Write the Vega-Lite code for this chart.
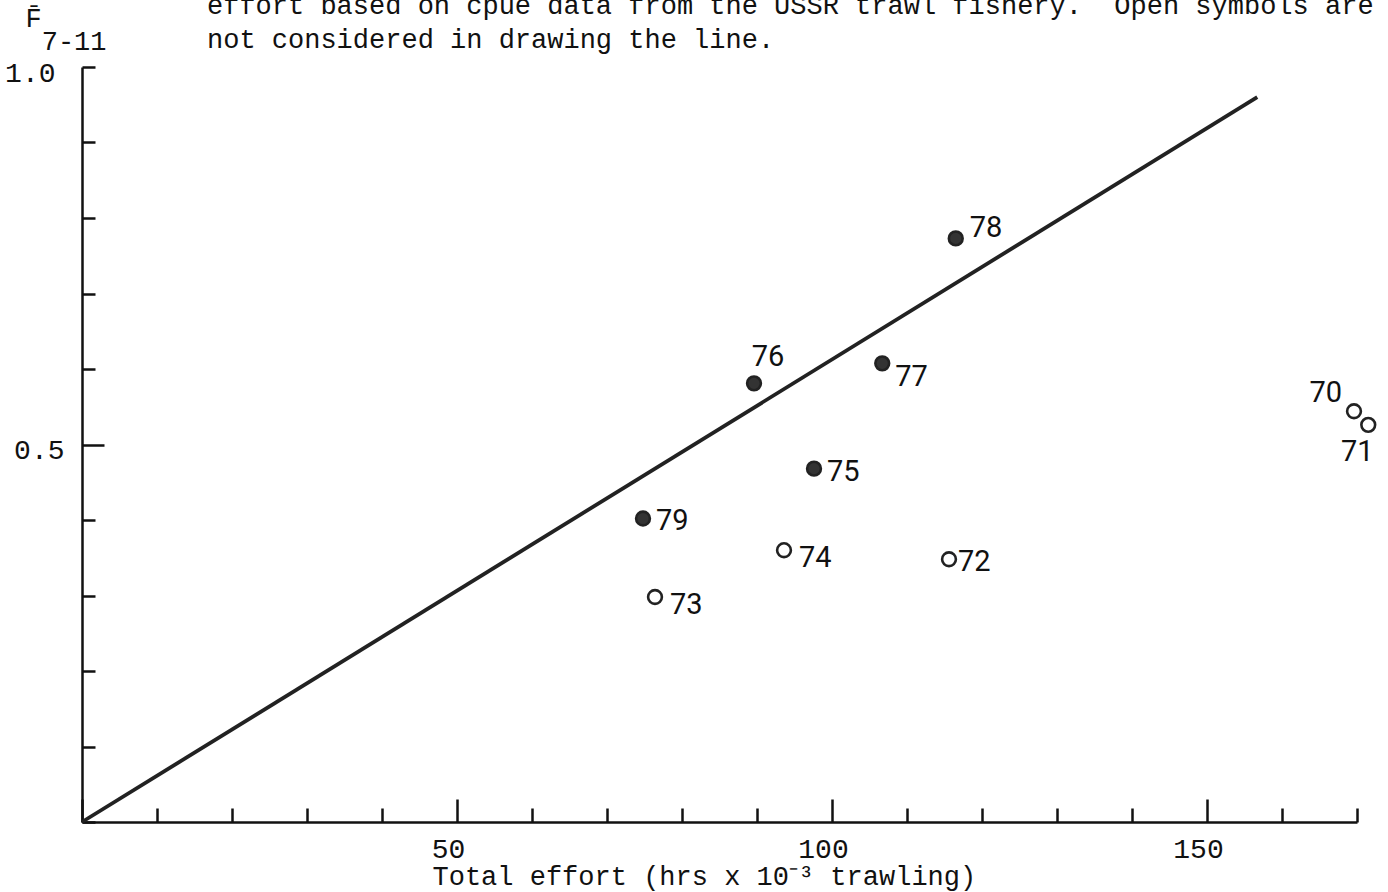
{
  "$schema": "https://vega.github.io/schema/vega-lite/v6.json",
  "width": 1275,
  "height": 755,
  "autosize": "none",
  "padding": {"left": 82, "top": 67, "right": 31, "bottom": 70},
  "background": "white",
  "config": {
    "view": {"stroke": null},
    "axis": {
      "grid": false,
      "domainColor": "#111",
      "tickColor": "#111",
      "domainWidth": 2.5,
      "tickWidth": 2.5,
      "labelColor": "#111",
      "titleColor": "#111",
      "labelFont": "Liberation Mono",
      "titleFont": "Liberation Mono",
      "labelFontSize": 28,
      "titleFontSize": 27,
      "titleFontWeight": "normal"
    }
  },
  "title": {
    "text": ["effort based on cpue data from the USSR trawl fishery.\u00a0 Open symbols are", "not considered in drawing the line."],
    "anchor": "start",
    "frame": "group",
    "dx": 125,
    "offset": -77,
    "font": "Liberation Mono",
    "fontSize": 27,
    "fontWeight": "normal",
    "color": "#111",
    "lineHeight": 34,
    "baseline": "bottom"
  },
  "datasets": {
    "pts": [
      {"year": 70, "effort": 169.6, "F": 0.544, "used": false},
      {"year": 71, "effort": 171.5, "F": 0.526, "used": false},
      {"year": 72, "effort": 115.6, "F": 0.348, "used": false},
      {"year": 73, "effort": 76.4, "F": 0.298, "used": false},
      {"year": 74, "effort": 93.6, "F": 0.360, "used": false},
      {"year": 75, "effort": 97.6, "F": 0.468, "used": true},
      {"year": 76, "effort": 89.6, "F": 0.581, "used": true},
      {"year": 77, "effort": 106.7, "F": 0.6075, "used": true},
      {"year": 78, "effort": 116.5, "F": 0.773, "used": true},
      {"year": 79, "effort": 74.8, "F": 0.402, "used": true}
    ],
    "fit": [
      {"effort": 0, "F": 0},
      {"effort": 156.7, "F": 0.96}
    ]
  },
  "layer": [
    {
      "data": {"name": "fit"},
      "mark": {"type": "line", "color": "#222", "strokeWidth": 3.8},
      "encoding": {
        "x": {
          "field": "effort",
          "type": "quantitative",
          "scale": {"domain": [0, 170], "nice": false, "zero": false},
          "axis": {
            "values": [0, 5, 10, 15, 20, 25, 30, 35, 40, 45, 50, 55, 60, 65, 70, 75, 80, 85, 90, 95, 100, 105, 110, 115, 120, 125, 130, 135, 140, 145, 150, 155, 160, 165, 170],
            "labelExpr": "(datum.value % 50 == 0 && datum.value > 0) ? datum.label : ''",
            "tickSize": {"condition": {"test": "datum.value % 50 == 0", "value": -23}, "value": -14},
            "labelPadding": 36,
            "labelOffset": -9,
            "labelFlush": false,
            "labelOverlap": false,
            "title": "Total effort (hrs x 10⁻³ trawling)",
            "titleX": 350,
            "titleY": 62,
            "titleAlign": "left",
            "titleBaseline": "alphabetic"
          }
        },
        "y": {
          "field": "F",
          "type": "quantitative",
          "scale": {"domain": [0, 1], "nice": false},
          "axis": {
            "values": [0, 0.1, 0.2, 0.3, 0.4, 0.5, 0.6, 0.7, 0.8, 0.9, 1.0],
            "format": ".1f",
            "labelExpr": "(datum.value == 0.5 || datum.value == 1) ? datum.label : ''",
            "tickSize": {"condition": {"test": "datum.value == 0.5", "value": -22}, "value": -13},
            "labelPadding": 40,
            "labelOffset": 6,
            "labelFlush": false,
            "labelOverlap": false,
            "title": ["F̄", "\u200b\u00a07-11"],
            "titleAngle": 0,
            "titleAlign": "left",
            "titleBaseline": "top",
            "titleX": -57,
            "titleY": -62,
            "titleLineHeight": 23
          }
        }
      }
    },
    {
      "data": {"name": "pts"},
      "mark": {"type": "point", "shape": "circle", "size": 190, "strokeWidth": 2.6, "stroke": "#222", "opacity": 1},
      "encoding": {
        "x": {"field": "effort", "type": "quantitative"},
        "y": {"field": "F", "type": "quantitative"},
        "fill": {"condition": {"test": "datum.used", "value": "#333"}, "value": "white"}
      }
    },
    {
      "data": {"name": "pts"},
      "transform": [{"filter": {"field": "year", "oneOf": [79, 75]}}],
      "mark": {"type": "text", "font": "Roboto", "fontSize": 29, "color": "#111", "align": "left", "baseline": "middle", "dx": 13, "dy": 3},
      "encoding": {"x": {"field": "effort", "type": "quantitative"}, "y": {"field": "F", "type": "quantitative"}, "text": {"field": "year"}}
    },
    {
      "data": {"name": "pts"},
      "transform": [{"filter": {"field": "year", "oneOf": [74, 73]}}],
      "mark": {"type": "text", "font": "Roboto", "fontSize": 29, "color": "#111", "align": "left", "baseline": "middle", "dx": 15, "dy": 8},
      "encoding": {"x": {"field": "effort", "type": "quantitative"}, "y": {"field": "F", "type": "quantitative"}, "text": {"field": "year"}}
    },
    {
      "data": {"name": "pts"},
      "transform": [{"filter": {"field": "year", "oneOf": [72]}}],
      "mark": {"type": "text", "font": "Roboto", "fontSize": 29, "color": "#111", "align": "left", "baseline": "middle", "dx": 9, "dy": 3},
      "encoding": {"x": {"field": "effort", "type": "quantitative"}, "y": {"field": "F", "type": "quantitative"}, "text": {"field": "year"}}
    },
    {
      "data": {"name": "pts"},
      "transform": [{"filter": {"field": "year", "oneOf": [77]}}],
      "mark": {"type": "text", "font": "Roboto", "fontSize": 29, "color": "#111", "align": "left", "baseline": "middle", "dx": 13, "dy": 14},
      "encoding": {"x": {"field": "effort", "type": "quantitative"}, "y": {"field": "F", "type": "quantitative"}, "text": {"field": "year"}}
    },
    {
      "data": {"name": "pts"},
      "transform": [{"filter": {"field": "year", "oneOf": [78]}}],
      "mark": {"type": "text", "font": "Roboto", "fontSize": 29, "color": "#111", "align": "left", "baseline": "middle", "dx": 14, "dy": -10},
      "encoding": {"x": {"field": "effort", "type": "quantitative"}, "y": {"field": "F", "type": "quantitative"}, "text": {"field": "year"}}
    },
    {
      "data": {"name": "pts"},
      "transform": [{"filter": {"field": "year", "oneOf": [76]}}],
      "mark": {"type": "text", "font": "Roboto", "fontSize": 29, "color": "#111", "align": "center", "baseline": "middle", "dx": 14, "dy": -26},
      "encoding": {"x": {"field": "effort", "type": "quantitative"}, "y": {"field": "F", "type": "quantitative"}, "text": {"field": "year"}}
    },
    {
      "data": {"name": "pts"},
      "transform": [{"filter": {"field": "year", "oneOf": [70]}}],
      "mark": {"type": "text", "font": "Roboto", "fontSize": 29, "color": "#111", "align": "right", "baseline": "middle", "dx": -12, "dy": -18},
      "encoding": {"x": {"field": "effort", "type": "quantitative"}, "y": {"field": "F", "type": "quantitative"}, "text": {"field": "year"}}
    },
    {
      "data": {"name": "pts"},
      "transform": [{"filter": {"field": "year", "oneOf": [71]}}],
      "mark": {"type": "text", "font": "Roboto", "fontSize": 29, "color": "#111", "align": "center", "baseline": "middle", "dx": -11, "dy": 27},
      "encoding": {"x": {"field": "effort", "type": "quantitative"}, "y": {"field": "F", "type": "quantitative"}, "text": {"field": "year"}}
    }
  ]
}
